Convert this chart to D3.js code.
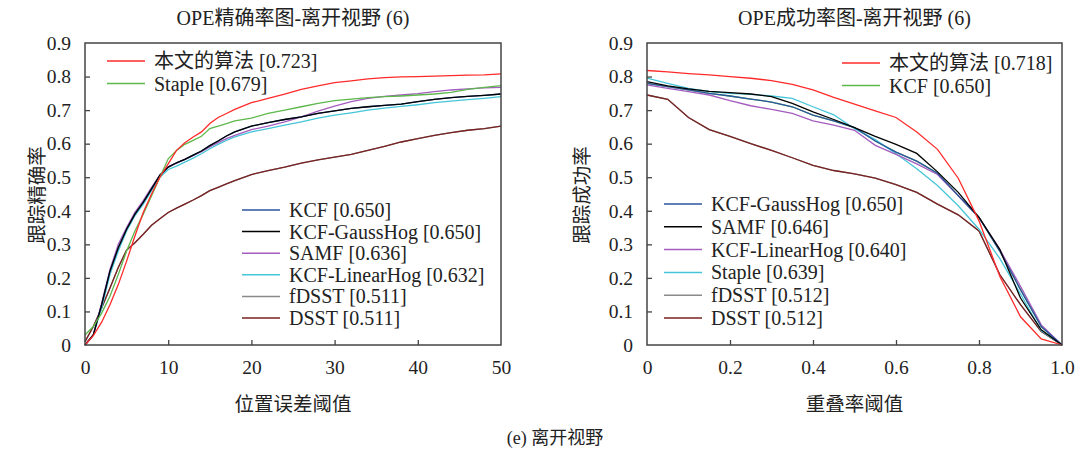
<!DOCTYPE html>
<html><head><meta charset="utf-8">
<script src="https://cdn.jsdelivr.net/npm/d3@7"></script>
<style>
body{margin:0;background:#fff;}
svg text{font-family:"Liberation Serif",Times,"Times New Roman","Noto Sans CJK SC",serif !important;fill:#222;}
</style></head>
<body><svg id="c" width="1078" height="450"></svg>
<script>
// ---------- Left chart: precision ----------
const precX = [0,1,2,3,4,5,6,7,8,9,10,11,12,13,14,15,16,17,18,20,22,24,26,28,30,32,34,36,38,40,42,44,46,48,50];
const precOurs   = [0,0.028,0.068,0.12,0.18,0.25,0.325,0.395,0.45,0.5,0.54,0.58,0.603,0.62,0.635,0.66,0.678,0.69,0.702,0.722,0.735,0.748,0.762,0.772,0.782,0.787,0.793,0.797,0.799,0.80,0.801,0.803,0.804,0.805,0.808];
const precStaple = [0.03,0.055,0.095,0.145,0.21,0.28,0.34,0.39,0.445,0.5,0.555,0.58,0.598,0.61,0.622,0.645,0.652,0.66,0.668,0.676,0.69,0.70,0.71,0.72,0.728,0.733,0.737,0.74,0.742,0.745,0.748,0.753,0.762,0.768,0.773];
const precKCF    = [0,0.03,0.12,0.22,0.29,0.345,0.39,0.425,0.465,0.506,0.53,0.543,0.553,0.566,0.578,0.594,0.608,0.623,0.635,0.652,0.663,0.672,0.68,0.69,0.698,0.705,0.71,0.714,0.718,0.725,0.732,0.737,0.741,0.744,0.748];
const precGauss  = [0,0.03,0.12,0.22,0.29,0.345,0.39,0.425,0.465,0.506,0.53,0.543,0.553,0.566,0.578,0.594,0.608,0.623,0.635,0.652,0.663,0.672,0.68,0.69,0.698,0.705,0.71,0.714,0.718,0.725,0.732,0.737,0.741,0.744,0.748];
const precSAMF   = [0,0.03,0.125,0.225,0.30,0.35,0.395,0.43,0.47,0.506,0.53,0.542,0.553,0.564,0.576,0.59,0.603,0.615,0.625,0.642,0.652,0.665,0.68,0.697,0.712,0.725,0.735,0.741,0.745,0.749,0.755,0.76,0.763,0.766,0.768];
const precLinear = [0,0.03,0.11,0.21,0.28,0.34,0.385,0.42,0.46,0.5,0.523,0.533,0.545,0.557,0.57,0.585,0.598,0.61,0.62,0.635,0.645,0.655,0.665,0.676,0.685,0.692,0.70,0.706,0.711,0.716,0.722,0.727,0.731,0.735,0.74];
const precFDSST  = [0.01,0.055,0.11,0.17,0.231,0.283,0.305,0.33,0.357,0.376,0.395,0.408,0.42,0.432,0.445,0.46,0.47,0.48,0.49,0.508,0.52,0.53,0.542,0.552,0.56,0.568,0.58,0.592,0.605,0.615,0.625,0.633,0.64,0.645,0.652];
const precDSST   = [0.01,0.055,0.11,0.17,0.231,0.283,0.305,0.33,0.357,0.376,0.395,0.408,0.42,0.432,0.445,0.46,0.47,0.48,0.49,0.508,0.52,0.53,0.542,0.552,0.56,0.568,0.58,0.592,0.605,0.615,0.625,0.633,0.64,0.645,0.652];
const precXTicks = [0,10,20,30,40,50];
const precLegendTop = ["本文的算法 [0.723]","Staple [0.679]"];
const precLegendBottom = ["KCF [0.650]","KCF-GaussHog [0.650]","SAMF [0.636]","KCF-LinearHog [0.632]","fDSST [0.511]","DSST [0.511]"];

// ---------- Right chart: success ----------
const succX = [0,0.05,0.1,0.15,0.2,0.25,0.3,0.35,0.4,0.45,0.5,0.55,0.6,0.65,0.7,0.75,0.8,0.85,0.9,0.95,1.0];
const succOurs   = [0.818,0.814,0.809,0.805,0.80,0.795,0.788,0.777,0.76,0.738,0.718,0.698,0.678,0.635,0.583,0.497,0.37,0.205,0.084,0.018,0];
const succKCF    = [0.78,0.77,0.76,0.75,0.742,0.733,0.724,0.71,0.685,0.668,0.648,0.608,0.575,0.548,0.512,0.445,0.38,0.28,0.165,0.055,0];
const succGauss  = [0.78,0.77,0.76,0.75,0.742,0.733,0.724,0.71,0.685,0.668,0.648,0.608,0.575,0.548,0.512,0.445,0.38,0.28,0.165,0.055,0];
const succSAMF   = [0.785,0.772,0.763,0.756,0.752,0.748,0.74,0.72,0.695,0.672,0.648,0.622,0.598,0.571,0.516,0.455,0.38,0.285,0.14,0.045,0];
const succLinear = [0.775,0.765,0.755,0.745,0.728,0.713,0.702,0.69,0.668,0.655,0.64,0.595,0.568,0.54,0.508,0.445,0.38,0.285,0.175,0.06,0];
const succStaple = [0.795,0.78,0.765,0.755,0.75,0.747,0.742,0.735,0.71,0.686,0.645,0.612,0.57,0.525,0.475,0.415,0.345,0.258,0.152,0.042,0];
const succFDSST  = [0.745,0.732,0.678,0.642,0.622,0.60,0.58,0.558,0.535,0.52,0.51,0.497,0.478,0.455,0.42,0.388,0.34,0.21,0.12,0.04,0];
const succDSST   = [0.745,0.732,0.678,0.642,0.622,0.60,0.58,0.558,0.535,0.52,0.51,0.497,0.478,0.455,0.42,0.388,0.34,0.21,0.12,0.04,0];
const succXTicks = [0,0.2,0.4,0.6,0.8,1.0];
const succLegendTop = ["本文的算法 [0.718]","KCF [0.650]"];
const succLegendBottom = ["KCF-GaussHog [0.650]","SAMF [0.646]","KCF-LinearHog [0.640]","Staple [0.639]","fDSST [0.512]","DSST [0.512]"];

const yTicks = [0,0.1,0.2,0.3,0.4,0.5,0.6,0.7,0.8,0.9];

const RED="#ff2a2a", GREEN="#5cb84a", BLUE="#2b55a0", BLACK="#000000", PURPLE="#a45cbf", CYAN="#45c6d8", GRAY="#8a8a8a", DRED="#7a2222";
const FONT = '"Liberation Serif", Times, "Times New Roman", "Noto Sans CJK SC", serif';

const svg = d3.select("#c");

function panel(o){
  const g = svg.append("g");
  const x = d3.scaleLinear().domain(o.xdom).range([o.x0,o.x1]);
  const y = d3.scaleLinear().domain([0,0.9]).range([345,43]);
  const line = d3.line().x(d=>x(d[0])).y(d=>y(d[1]));
  o.series.forEach(s=>{
    g.append("path").datum(o.xs.map((v,i)=>[v,s.v[i]]))
      .attr("d",line).attr("fill","none").attr("stroke",s.c).attr("stroke-width",1.3);
  });
  g.append("rect").attr("x",o.x0).attr("y",43).attr("width",o.x1-o.x0).attr("height",302)
    .attr("fill","none").attr("stroke","#444").attr("stroke-width",1.5);
  const ya = d3.axisLeft(y).tickValues(yTicks).tickSize(-5).tickPadding(14).tickFormat(d=>d===0?"0":d3.format(".1f")(d));
  const ga = g.append("g").attr("transform",`translate(${o.x0},0)`).call(ya);
  const xa = d3.axisBottom(x).tickValues(o.xticks).tickSize(-5).tickPadding(15).tickFormat(o.xfmt);
  const gx = g.append("g").attr("transform","translate(0,345)").call(xa);
  [ga,gx].forEach(a=>{
    a.attr("font-family",FONT).attr("font-size",19.5);
    a.select(".domain").remove();
    a.selectAll(".tick line").attr("stroke","#444").attr("stroke-width",1.3);
    a.selectAll(".tick text").attr("fill","#222");
  });
  ga.selectAll(".tick").filter(d=>d===0||d===0.9).select("line").remove();
  gx.selectAll(".tick").filter((d,i)=>i===0||i===o.xticks.length-1).select("line").remove();
  const cx=(o.x0+o.x1)/2;
  g.append("text").attr("x",cx).attr("y",25).attr("text-anchor","middle").style("font-size","20px").text(o.title);
  g.append("text").attr("x",cx).attr("y",411).attr("text-anchor","middle").style("font-size","19.5px").attr("fill","#333").text(o.xtitle);
  g.append("text").attr("transform",`translate(${o.ytx},195) rotate(-90)`).attr("text-anchor","middle").style("font-size","19.5px").attr("fill","#333").text(o.ytitle);
  function legend(items, colors, lx, ly, dy){
    items.forEach((t,i)=>{
      const yy = ly + i*dy;
      g.append("line").attr("x1",lx).attr("x2",lx+38).attr("y1",yy).attr("y2",yy).attr("stroke",colors[i]).attr("stroke-width",1.5);
      g.append("text").attr("x",lx+47).attr("y",yy).attr("dy","0.35em").style("font-size","20px").text(t);
    });
  }
  legend(o.legTop, o.legTopC, o.ltx, o.lty, 22.5);
  legend(o.legBot, o.legBotC, o.lbx, o.lby, o.lbdy);
}

panel({
  xdom:[0,50], x0:85, x1:501, xs:precX, xticks:precXTicks, xfmt:d3.format("d"),
  series:[
    {v:precFDSST,c:GRAY},{v:precDSST,c:DRED},{v:precLinear,c:CYAN},{v:precSAMF,c:PURPLE},
    {v:precKCF,c:BLUE},{v:precGauss,c:BLACK},{v:precStaple,c:GREEN},{v:precOurs,c:RED}
  ],
  title:"OPE精确率图-离开视野 (6)", xtitle:"位置误差阈值", ytitle:"跟踪精确率", ytx:44,
  legTop:precLegendTop, legTopC:[RED,GREEN], ltx:107, lty:61,
  legBot:precLegendBottom, legBotC:[BLUE,BLACK,PURPLE,CYAN,GRAY,DRED], lbx:242, lby:210, lbdy:21.6
});

panel({
  xdom:[0,1], x0:647, x1:1062, xs:succX, xticks:succXTicks, xfmt:d=>d===0?"0":d3.format(".1f")(d),
  series:[
    {v:succFDSST,c:GRAY},{v:succDSST,c:DRED},{v:succKCF,c:GREEN},{v:succStaple,c:CYAN},{v:succLinear,c:PURPLE},
    {v:succGauss,c:BLUE},{v:succSAMF,c:BLACK},{v:succOurs,c:RED}
  ],
  title:"OPE成功率图-离开视野 (6)", xtitle:"重叠率阈值", ytitle:"跟踪成功率", ytx:589,
  legTop:succLegendTop, legTopC:[RED,GREEN], ltx:842, lty:63,
  legBot:succLegendBottom, legBotC:[BLUE,BLACK,PURPLE,CYAN,GRAY,DRED], lbx:664, lby:204, lbdy:22.8
});

svg.append("text").attr("x",555).attr("y",444).attr("text-anchor","middle").style("font-size","18px").text("(e) 离开视野");
</script></body></html>
